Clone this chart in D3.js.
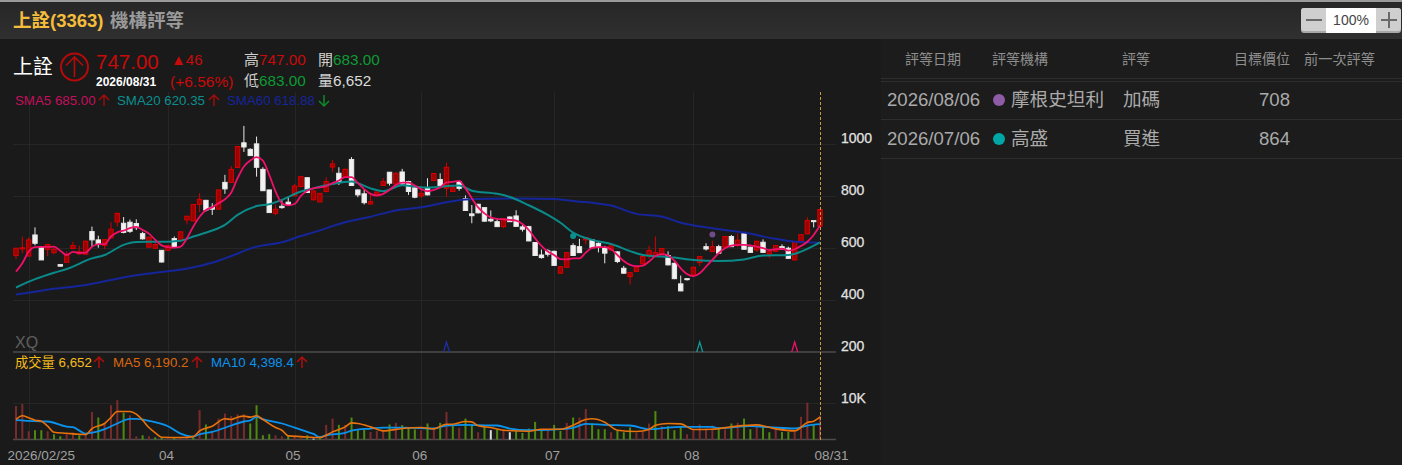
<!DOCTYPE html>
<html>
<head>
<meta charset="utf-8">
<script src="https://cdn.jsdelivr.net/npm/d3@7"></script>
<style>
  html, body { margin: 0; padding: 0; background: #1a1a1a; overflow: hidden; }
  text { font-family: "Liberation Sans", "Noto Sans CJK TC", sans-serif; }
</style>
</head>
<body>
<div id="chart"></div>
<script>
// candles, one entry per trading day
const open = [570,595,568,649,602,594,581,535,544,597,576,575,662,630,609,638,699,694,698,693,
  654,602,598,590,590,635,627,707,703,767,782,755,748,851,851,908,1003,978,999,901,
  822,732,759,775,799,835,869,784,776,816,910,886,871,939,822,807,768,799,839,890,
  845,891,854,830,799,828,858,862,828,816,854,789,730,767,754,709,700,681,718,722,
  680,681,620,572,588,586,502,525,608,604,630,630,617,600,591,584,521,489,509,538,
  572,568,572,570,540,461,481,495,543,604,585,604,602,643,611,654,602,591,621,576,
  586,604,598,553,623,653,704,683];
const high = [598,643,640,678,604,614,600,535,585,623,608,627,681,646,632,698,734,718,708,709,
  661,643,620,591,611,643,662,721,767,809,784,771,823,880,914,990,1068,982,1027,909,
  823,766,784,796,845,876,871,819,810,871,937,909,904,948,823,822,812,816,867,891,
  890,903,857,832,828,867,886,886,927,837,857,801,764,768,755,743,709,713,721,744,
  687,684,621,593,594,589,529,582,617,634,640,632,621,607,609,586,530,506,526,570,
  607,643,598,586,543,493,481,526,567,617,627,611,644,649,655,655,604,626,632,586,
  609,613,604,625,652,717,704,747];
const low = [556,579,566,609,553,568,575,529,543,594,573,573,604,600,594,635,681,655,657,668,
  631,599,597,543,589,599,626,690,702,737,739,726,746,807,850,907,968,953,873,818,
  734,725,750,764,798,833,810,782,775,813,892,841,868,837,794,766,767,798,837,839,
  844,840,803,790,791,801,857,837,795,814,819,741,694,732,700,698,680,675,699,681,
  662,625,568,558,566,531,500,523,568,580,613,599,582,540,590,541,500,459,508,536,
  557,567,571,532,479,433,474,494,530,589,584,576,600,603,602,593,581,584,581,561,
  585,593,558,552,622,652,678,683];
const close = [598,600,630,617,553,612,594,529,572,608,584,625,630,612,631,671,732,659,663,677,
  634,640,612,545,608,602,661,721,766,786,745,748,822,826,901,989,987,954,909,819,
  735,748,754,766,837,873,812,818,809,854,922,851,901,839,803,773,777,814,854,848,
  886,845,816,794,809,803,885,839,909,830,828,743,723,734,702,703,681,711,700,682,
  671,626,570,562,575,532,527,581,570,581,639,600,602,579,607,547,502,504,525,566,
  589,581,597,534,481,434,479,525,566,595,604,579,643,604,629,594,582,625,582,585,
  608,594,559,623,650,704,700,747];

const sma5 = [508,540,585,602,603,603,604,588,572,584,580,581,604,614,614,643,659,666,675,680,
  668,654,630,609,602,600,604,636,681,719,745,755,771,786,812,867,912,935,948,935,
  880,816,771,763,768,799,819,828,832,837,848,858,871,871,848,825,807,801,807,822,
  841,850,850,839,825,817,822,831,851,853,857,828,790,755,732,716,711,709,707,704,
  691,668,636,607,585,572,556,555,559,559,581,599,602,602,594,572,549,534,529,531,
  547,568,575,570,550,521,499,491,502,527,553,579,598,608,611,611,609,604,598,591,
  594,596,589,594,607,623,649,685];

const sma20At = [0,3,6,8,12,14,17,19,23,26,28,31,33,35,38,40,42,45,47,50,53,54,56,58,61,63,65,70,72,76,78,81,84,86,88,91,94,97,99,102,104,107,111,115,118,122,124,127];
const sma20 = [447,479,504,518,559,572,611,622,623,627,643,666,688,726,760,767,784,816,828,845,854,848,828,817,840,835,831,839,819,807,795,763,726,696,658,630,614,587,572,566,562,553,549,555,570,572,585,620];

const sma60At = [0,3,6,11,15,19,22,25,29,32,34,38,42,45,47,52,56,60,64,68,71,73,79,85,89,91,94,98,102,105,110,115,120,123,127];
const sma60 = [420,431,442,457,476,494,504,512,530,550,568,604,621,645,659,698,719,743,755,775,785,787,789,787,777,773,762,730,720,696,675,658,634,623,619];

// volume, lots
const volume = [9260,9800,2300,2600,2600,2300,1500,930,1670,1950,1200,1500,7600,6100,4450,9500,10900,7400,6700,930,
  1200,930,650,650,740,460,550,930,650,8150,4170,2400,5800,7200,6500,7000,7000,4450,9500,1200,
  1500,1200,930,1200,930,550,1200,280,460,4070,5800,4070,4070,6100,2600,2800,2100,2400,2600,4170,
  4630,4000,3300,2800,2600,4450,2800,4630,7600,4000,3240,5800,4260,2040,3700,2600,2800,2800,2040,2400,
  1850,3050,4900,2400,2600,4070,2400,4630,6100,6100,8430,4450,2870,2870,2040,2400,2040,3330,1850,2130,
  4450,7870,3700,3700,2600,3700,1480,2800,4170,3050,3890,3330,2800,4450,4630,5800,2870,3700,3700,2040,
  2800,2130,2130,2130,6300,10200,4000,6652];
const volumeDir = "rrrggrggrrgrrgrrrgrrgrggrgrrgrgrrrrrrggggrrgrrgwgrrgrgggrrrgrgggrgrgrgrggrgwgrwgggggrggrgrrgggrgggrrrgrgggrrrrrgrgrggrggrggrrrgr".split("");

const ma5At = [0,1,2,3,4,5,6,8,10,11,12,14,15,16,18,19,20,21,22,23,26,28,29,31,33,34,35,36,37,38,39,41,42,43,45,48,49,50,52,53,54,56,58,61,64,66,68,69,71,72,73,75,77,81,83,86,88,90,91,93,95,98,100,101,103,105,107,110,113,117,120,123,125,126,127];
const ma5 = [5560,6570,6020,5370,5090,3700,2040,1760,1480,1390,3060,4450,6110,7780,7780,7040,5370,3330,1850,650,560,830,2410,3700,5740,5560,6200,6480,6200,6570,5560,3330,2590,1020,830,560,1200,2130,3520,4630,4450,3520,2410,3060,3330,2960,4260,4260,5000,4900,3800,3330,2590,2315,2870,2870,3980,5560,5740,4815,2590,2220,2780,3980,4450,4350,2780,2870,3520,4070,2960,2410,4720,5090,6190];
const ma10At = [0,3,5,8,9,11,14,16,18,19,21,24,26,28,29,31,34,36,37,38,39,42,44,46,47,48,49,52,53,56,58,61,64,66,68,71,73,76,78,81,85,88,90,93,97,100,103,105,110,111,116,119,123,125,127];
const ma10 = [5370,5090,5000,3610,3430,1670,2870,4450,5740,5740,5190,3700,1670,830,1480,2130,3890,5000,5280,6300,5650,4450,3330,2130,1570,650,1200,1850,2500,3060,3330,3330,3150,3060,3890,4070,3980,3890,3060,2590,2780,3240,4350,4070,3890,2870,3330,3520,3520,3150,3700,3430,3060,3890,4260];

const priceTicks = [200,400,600,800,1000];
const volumeTicks = [10000];
const monthAt = [2,24,44,64,85,107];
const dateTicks = [0,24,44,64,85,107,127];
const dateLabels = ["2026/02/25","04","05","06","07","08","08/31"];

// analyst ratings, dots go on the chart too
const ratingDate = ["2026/08/06","2026/07/06"];
const ratingFirm = ["摩根史坦利","高盛"];
const ratingCall = ["加碼","買進"];
const ratingTarget = [708,864];
const ratingAt = [110,88];
const ratingPrice = [651,645];
const ratingColor = ["#8e5ba6","#00a6a6"];
const crossAt = [68,108,123];
const crossColor = ["#1c2fa8","#0f9a9a","#f0106a"];

const W = 1402, H = 465;
const svg = d3.select("#chart").append("svg").attr("width", W).attr("height", H).style("display", "block");

const defs = svg.append("defs");
const headGrad = defs.append("linearGradient").attr("id", "head").attr("x1", 0).attr("x2", 0).attr("y1", 0).attr("y2", 1);
headGrad.append("stop").attr("offset", "0%").attr("stop-color", "#262626");
headGrad.append("stop").attr("offset", "100%").attr("stop-color", "#303030");

svg.append("rect").attr("width", W).attr("height", H).attr("fill", "#1a1a1a");
svg.append("rect").attr("width", W).attr("height", 39).attr("fill", "url(#head)");
svg.append("rect").attr("width", W).attr("height", 2).attr("fill", "#9a9a9a");
svg.append("rect").attr("x", 881).attr("y", 39).attr("width", W - 881).attr("height", H - 39).attr("fill", "#1c1c1c");

// scales
const x = d3.scaleLinear().domain([0, close.length - 1]).range([16, 820]);
const y = d3.scaleLinear().domain([200, 1000]).range([351.8, 143.6]);
const yVol = d3.scaleLinear().domain([0, 10000]).range([439.6, 403.4]);

// grid
const grid = svg.append("g").attr("stroke", "#262626").attr("stroke-width", 1);
grid.selectAll(".vg").data(monthAt).join("line").attr("class", "vg")
  .attr("x1", d => Math.round(x(d)) + .5).attr("x2", d => Math.round(x(d)) + .5).attr("y1", 92).attr("y2", 440);
grid.selectAll(".hg").data(priceTicks.slice(1)).join("line").attr("class", "hg")
  .attr("x1", 13).attr("x2", 836).attr("y1", d => Math.round(y(d)) + .5).attr("y2", d => Math.round(y(d)) + .5);
grid.selectAll(".hv").data(volumeTicks).join("line").attr("class", "hv")
  .attr("x1", 13).attr("x2", 836).attr("y1", d => Math.round(yVol(d)) + .5).attr("y2", d => Math.round(yVol(d)) + .5);

// axes, labels sit a little above their grid lines
const axisY = d3.axisRight(y).tickValues(priceTicks).tickSize(0).tickPadding(0).tickFormat(d3.format("d"));
const gy = svg.append("g").attr("transform", "translate(841,-5.5)").call(axisY);
const axisV = d3.axisRight(yVol).tickValues(volumeTicks).tickSize(0).tickPadding(0).tickFormat(d => d / 1000 + "K");
const gv = svg.append("g").attr("transform", "translate(841,-5)").call(axisV);
[gy, gv].forEach(g => {
  g.select(".domain").remove();
  g.selectAll("text").attr("fill", "#e2e2e2").attr("font-size", 14).attr("font-family", null)
    .attr("stroke", "#e2e2e2").attr("stroke-width", 0.25);
});

const axisX = d3.axisBottom(x).tickValues(dateTicks).tickSize(0).tickPadding(0)
  .tickFormat((d, i) => dateLabels[i]);
const gx = svg.append("g").attr("transform", "translate(0,450)").call(axisX);
gx.select(".domain").remove();
gx.selectAll("text").attr("fill", "#a0a0a0").attr("font-size", 13.5).attr("font-family", null).attr("dx", -2);
gx.selectAll("text").filter((d, i) => i === 0).attr("text-anchor", "start").attr("dx", -9);
gx.selectAll("text").filter((d, i) => i === dateTicks.length - 1).attr("dx", 11);

svg.append("line").attr("x1", 13).attr("x2", 836).attr("y1", 352).attr("y2", 352).attr("stroke", "#4d4d4d").attr("stroke-width", 1.5);
svg.append("line").attr("x1", 13).attr("x2", 836).attr("y1", 439.5).attr("y2", 439.5).attr("stroke", "#4d4d4d").attr("stroke-width", 1.5);

svg.append("text").attr("x", 15).attr("y", 348).attr("fill", "#5f5f5f").attr("font-size", 16).text("XQ");

// volume bars
const volColor = { r: "#7a2c2c", g: "#4f8a10", w: "#dddddd" };
svg.append("g").selectAll("rect").data(volume).join("rect")
  .attr("x", (d, i) => x(i) - 1).attr("width", 2)
  .attr("y", d => yVol(d)).attr("height", d => yVol(0) - yVol(d))
  .attr("fill", (d, i) => volColor[volumeDir[i]]);

// candles
const candle = svg.append("g").selectAll("g").data(close).join("g");
candle.append("line")
  .attr("x1", (d, i) => x(i)).attr("x2", (d, i) => x(i))
  .attr("y1", (d, i) => y(high[i])).attr("y2", (d, i) => y(low[i]))
  .attr("stroke", (d, i) => close[i] > open[i] ? "#d40000" : "#e8e8e8").attr("stroke-width", 1);
candle.append("rect")
  .attr("x", (d, i) => x(i) - 2.2).attr("width", 4.4)
  .attr("y", (d, i) => y(Math.max(open[i], close[i])))
  .attr("height", (d, i) => Math.max(1, Math.abs(y(open[i]) - y(close[i]))))
  .attr("fill", (d, i) => close[i] > open[i] ? "#9c0000" : "#f2f2f2")
  .attr("stroke", (d, i) => close[i] > open[i] ? "#d80000" : "#e8e8e8").attr("stroke-width", 1);

// moving averages
function drawLine(idx, values, scale, color, width) {
  const line = d3.line().x(d => x(d[0])).y(d => scale(d[1])).curve(d3.curveMonotoneX);
  svg.append("path").datum(values.map((v, i) => [idx[i], v]))
    .attr("d", line).attr("fill", "none").attr("stroke", color).attr("stroke-width", width);
}
drawLine(sma60At, sma60, y, "#15259a", 2);
drawLine(sma20At, sma20, y, "#0b8a8a", 2);
drawLine(sma5.map((d, i) => i), sma5, y, "#f0106a", 1.8);
drawLine(ma10At, ma10, yVol, "#0a93ee", 1.8);
drawLine(ma5At, ma5, yVol, "#e8720c", 1.6);

// rating dots and crossing marks
svg.append("g").selectAll("circle").data(ratingAt).join("circle")
  .attr("cx", d => x(d)).attr("cy", (d, i) => y(ratingPrice[i])).attr("r", 3)
  .attr("fill", (d, i) => i === 0 ? "#6f4a86" : "#0b8f8f");
svg.append("g").selectAll("path").data(crossAt).join("path")
  .attr("d", d => `M${x(d) - 3},352 L${x(d)},342 L${x(d) + 3},352`)
  .attr("fill", "none").attr("stroke", (d, i) => crossColor[i]).attr("stroke-width", 1.3);

// current day marker
svg.append("line").attr("x1", 820.5).attr("x2", 820.5).attr("y1", 92).attr("y2", 440)
  .attr("stroke", "#c89a3c").attr("stroke-width", 1).attr("stroke-dasharray", "3,2");

function label(px, py, str, color, size, extra) {
  const t = svg.append("text").attr("x", px).attr("y", py).attr("fill", color).attr("font-size", size).text(str);
  if (extra) t.attr("font-weight", extra);
  return t;
}
function arrow(px, py, color) {
  svg.append("path").attr("d", `M${px},${py + 11} V${py} M${px - 5},${py + 5} L${px},${py} L${px + 5},${py + 5}`)
    .attr("fill", "none").attr("stroke", color).attr("stroke-width", 1.5);
}
function arrowDown(px, py, color) {
  svg.append("path").attr("d", `M${px},${py} V${py + 11} M${px - 5},${py + 6} L${px},${py + 11} L${px + 5},${py + 6}`)
    .attr("fill", "none").attr("stroke", color).attr("stroke-width", 1.5);
}

// title bar
label(13, 27, "上詮(3363)", "#f5bd3c", 18.5, "bold");
label(110, 27, "機構評等", "#9a9a9a", 18.5, "bold");

// quote block
const red = "#c80a0a", green = "#0d9a35";
label(13, 74, "上詮", "#ffffff", 20);
svg.append("circle").attr("cx", 74.5).attr("cy", 67).attr("r", 13.5).attr("fill", "none").attr("stroke", "#b50a0a").attr("stroke-width", 2);
svg.append("path").attr("d", "M74.5,77 V57 M66,65.5 L74.5,57 L83,65.5").attr("fill", "none").attr("stroke", "#b50a0a").attr("stroke-width", 1.6);
label(96, 69, "747.00", red, 20.5);
label(96, 86, "2026/08/31", "#ffffff", 12, "bold");
label(171, 65, "▲46", red, 15);
label(170, 87, "(+6.56%)", red, 15.5);
label(244, 65, "高", "#cfcfcf", 15); label(259, 65, "747.00", red, 15.3);
label(318, 65, "開", "#cfcfcf", 15); label(333, 65, "683.00", green, 15.3);
label(244, 86, "低", "#cfcfcf", 15); label(259, 86, "683.00", green, 15.3);
label(318, 86, "量", "#cfcfcf", 15); label(333, 86, "6,652", "#dcdcdc", 15.3);

// legends
label(15, 105, "SMA5 685.00", "#c40f5c", 13.3); arrow(104, 95, "#a00d0d");
label(117, 105, "SMA20 620.35", "#0b8f8f", 13.3); arrow(214, 95, "#a00d0d");
label(227, 105, "SMA60 618.88", "#15259a", 13.3); arrowDown(324, 95, "#0d8a2a");
label(15, 367, "成交量 6,652", "#f5bd1c", 13.3); arrow(99, 357, "#b00d0d");
label(113, 367, "MA5 6,190.2", "#d9680e", 13.3); arrow(197, 357, "#b00d0d");
label(211, 367, "MA10 4,398.4", "#0a93ee", 13.3); arrow(302, 357, "#b00d0d");

// zoom control
const zoomG = svg.append("g");
zoomG.append("rect").attr("x", 1301).attr("y", 8).attr("width", 100).attr("height", 25).attr("rx", 3).attr("fill", "#a8a8a8");
zoomG.append("rect").attr("x", 1301).attr("y", 8).attr("width", 100).attr("height", 23).attr("rx", 3).attr("fill", "#cfcfcf");
zoomG.append("rect").attr("x", 1326).attr("y", 8).attr("width", 50).attr("height", 25).attr("fill", "#ffffff");
zoomG.append("path").attr("d", "M1306,20 H1322 M1381,20 H1397 M1389,12 V28").attr("stroke", "#6a6a6a").attr("stroke-width", 2).attr("fill", "none");
zoomG.append("text").attr("x", 1351).attr("y", 25).attr("text-anchor", "middle").attr("fill", "#444").attr("font-size", 14).text("100%");

// ratings table
const headColor = "#8f8f8f";
label(905, 64, "評等日期", headColor, 14);
label(992, 64, "評等機構", headColor, 14);
label(1122, 64, "評等", headColor, 14);
label(1290, 64, "目標價位", headColor, 14).attr("text-anchor", "end");
label(1304, 64, "前一次評等", headColor, 14.2);

const rowLines = [78.5, 81.5, 119.5, 158.5];
svg.append("g").selectAll("line").data(rowLines).join("line")
  .attr("x1", 881).attr("x2", W).attr("y1", d => d).attr("y2", d => d).attr("stroke", "#2e2e2e");

const rowY = d3.scalePoint().domain(ratingDate).range([106, 145]);
const rows = svg.append("g").selectAll("g").data(ratingDate).join("g")
  .attr("transform", d => `translate(0,${rowY(d)})`);
rows.append("text").attr("x", 887).attr("fill", "#aaa").attr("font-size", 18.6).text(d => d);
rows.append("circle").attr("cx", 999).attr("cy", -6).attr("r", 6).attr("fill", (d, i) => ratingColor[i]);
rows.append("text").attr("x", 1011).attr("fill", "#aaa").attr("font-size", 18.6).text((d, i) => ratingFirm[i]);
rows.append("text").attr("x", 1123).attr("fill", "#aaa").attr("font-size", 18.6).text((d, i) => ratingCall[i]);
rows.append("text").attr("x", 1290).attr("text-anchor", "end").attr("fill", "#aaa").attr("font-size", 18.6).text((d, i) => ratingTarget[i]);
</script>
</body>
</html>
